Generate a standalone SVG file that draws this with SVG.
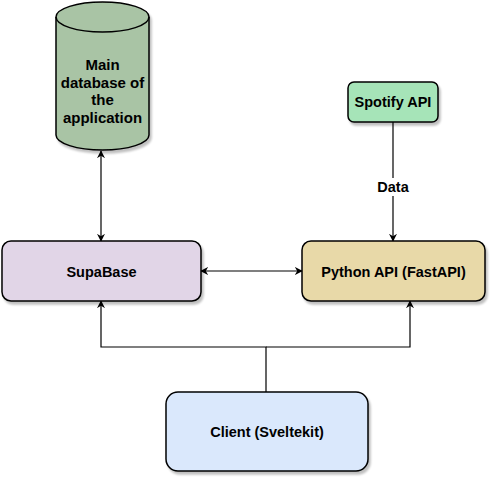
<svg xmlns="http://www.w3.org/2000/svg" width="497" height="483" viewBox="0 0 497 483">
<defs>
<filter id="sh" x="-10%" y="-10%" width="130%" height="130%">
<feGaussianBlur in="SourceAlpha" stdDeviation="1.2"/>
<feOffset dx="2" dy="3" result="o"/>
<feComponentTransfer><feFuncA type="linear" slope="0.25"/></feComponentTransfer>
<feMerge><feMergeNode/><feMergeNode in="SourceGraphic"/></feMerge>
</filter>
<marker id="ah" viewBox="0 0 10 10" refX="9" refY="5" markerWidth="8" markerHeight="8" markerUnits="userSpaceOnUse" orient="auto-start-reverse">
<path d="M0,0 L10,5 L0,10 L3,5 Z" fill="#000"/>
</marker>
</defs>
<style>
.n{stroke:#000;stroke-width:1.5;filter:url(#sh)}
.t{font-family:"Liberation Sans",Arial,sans-serif;font-weight:bold;font-size:14.5px;fill:#000;text-anchor:middle;dominant-baseline:central}
.c{fill:none;stroke:#000;stroke-width:1.2}
</style>
<rect width="497" height="483" fill="#fff"/>
<g id="connectors">
<path class="c" d="M101,151 L101,241" marker-start="url(#ah)" marker-end="url(#ah)"/>
<path class="c" d="M201,271 L302,271" marker-start="url(#ah)" marker-end="url(#ah)"/>
<path class="c" d="M393,122 L393,241" marker-end="url(#ah)"/>
<path class="c" d="M266,392 L266,347 L101,347 L101,301" marker-end="url(#ah)"/>
<path class="c" d="M266,347 L410,347 L410,301" marker-end="url(#ah)"/>
<rect x="375" y="178" width="36" height="18" fill="#fff"/>
<text class="t" x="393" y="187">Data</text>
</g>
<g id="database">
<path class="n" fill="#a9c4a5" d="M56,17 A46.5,15 0 0 1 149,17 L149,135 A46.5,15 0 0 1 56,135 Z"/>
<path fill="none" stroke="#000" stroke-width="1.5" d="M56,17 A46.5,15 0 0 0 149,17"/>
<text class="t" x="102.5" y="64" style="font-size:15px">Main</text>
<text class="t" x="102.5" y="82" style="font-size:15px">database of</text>
<text class="t" x="102.5" y="99" style="font-size:15px">the</text>
<text class="t" x="102.5" y="117" style="font-size:15px">application</text>
</g>
<g id="spotify">
<rect class="n" x="348" y="82" width="90" height="40" rx="6" fill="#a6e4b8"/>
<text class="t" x="393" y="102">Spotify API</text>
</g>
<g id="supabase">
<rect class="n" x="2" y="241" width="199" height="60" rx="9" fill="#e1d5e7"/>
<text class="t" x="101.5" y="272">SupaBase</text>
</g>
<g id="python">
<rect class="n" x="302" y="241" width="183" height="60" rx="9" fill="#e8d9a8"/>
<text class="t" x="393.5" y="272">Python API (FastAPI)</text>
</g>
<g id="client">
<rect class="n" x="166" y="392" width="202" height="79" rx="12" fill="#dae8fc"/>
<text class="t" x="267" y="432">Client (Sveltekit)</text>
</g>
</svg>
